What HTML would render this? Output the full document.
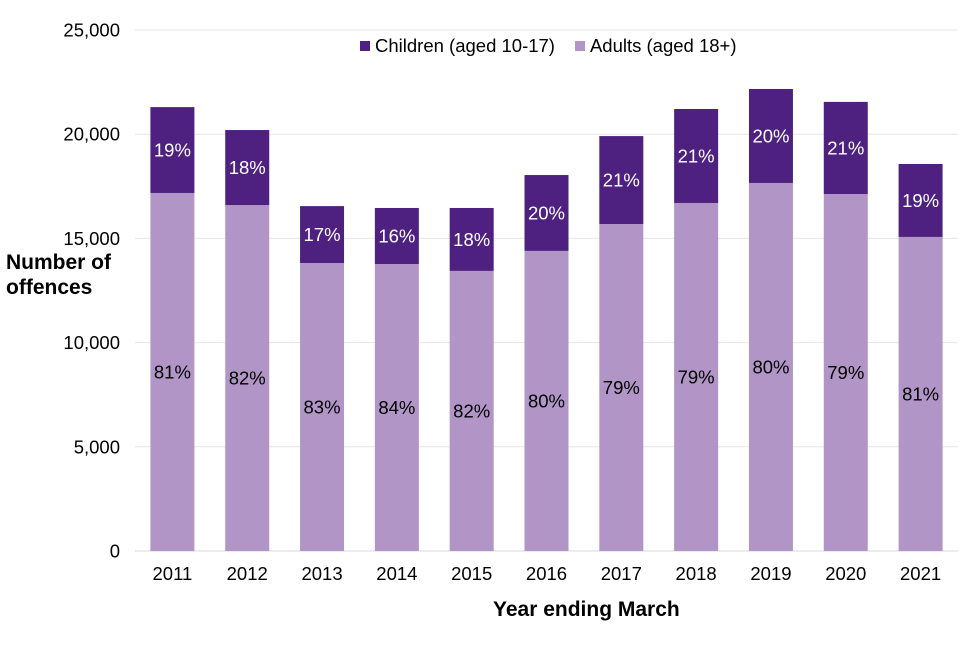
<!DOCTYPE html>
<html><head><meta charset="utf-8"><style>
body{margin:0;background:#fff;font-family:"Liberation Sans",Arial,sans-serif}
</style></head><body>
<svg id="chart" width="960" height="640" xmlns="http://www.w3.org/2000/svg" font-family="Liberation Sans, Arial, sans-serif"></svg>
<script>
const years=["2011","2012","2013","2014","2015","2016","2017","2018","2019","2020","2021"];
const adults=[17180,16600,13820,13770,13440,14400,15690,16700,17660,17130,15070];
const children=[4120,3600,2730,2690,3020,3640,4220,4510,4510,4420,3500];
const adultPct=["81%","82%","83%","84%","82%","80%","79%","79%","80%","79%","81%"];
const childPct=["19%","18%","17%","16%","18%","20%","21%","21%","20%","21%","19%"];
const yTicks=[0,5000,10000,15000,20000,25000];
const ns="http://www.w3.org/2000/svg";
const svg=document.getElementById('chart');
const L=135,R=958,T=30,B=551,yMax=25000;
const y=v=>B-(v/yMax)*(B-T);
const slot=(R-L)/years.length;
const xc=i=>L+slot*(i+0.5);
const bw=44;
const FS=18.5;
function mk(tag,attrs,text){const e=document.createElementNS(ns,tag);for(const k in attrs)e.setAttribute(k,attrs[k]);if(text!==undefined)e.textContent=text;svg.appendChild(e);return e;}
yTicks.forEach(t=>{
 const g=mk('line',{x1:L,x2:R,y1:y(t),y2:y(t),stroke:t===0?'#d9d9d9':'#e6e6e6','stroke-width':1});
 
 
 const lb=mk('text',{x:120,y:y(t)+6.5,'text-anchor':'end','font-size':FS,fill:'#000'},t.toLocaleString('en-US'));
 
 
});
years.forEach((yr,i)=>{
 const a=adults[i],c=children[i],x=xc(i)-bw/2;
 const ra=mk('rect',{x:x,y:y(a),width:bw,height:B-y(a),fill:'#b195c6'});
 
 
 const rc=mk('rect',{x:x,y:y(a+c),width:bw,height:y(a)-y(a+c),fill:'#4e2180'});
 
 
 const ta=mk('text',{x:xc(i),y:(y(a)+B)/2+6.5,'text-anchor':'middle','font-size':FS,fill:'#000'},adultPct[i]);
 
 
 const tc=mk('text',{x:xc(i),y:(y(a)+y(a+c))/2+6.5,'text-anchor':'middle','font-size':FS,fill:'#fff'},childPct[i]);
 
 
 const tx=mk('text',{x:xc(i),y:580,'text-anchor':'middle','font-size':FS,fill:'#000'},yr);
 
 
});
</script>
<div style="position:absolute;left:360px;top:35px;font-size:18.5px;display:flex;align-items:center">
 <span style="width:10px;height:10px;background:#4e2180;display:inline-block;margin-right:5px"></span>
 <span>Children (aged 10-17)</span>
 <span style="width:10px;height:10px;background:#b195c6;display:inline-block;margin:0 5px 0 20px"></span>
 <span>Adults (aged 18+)</span>
</div>
<div style="position:absolute;left:6px;top:250px;font-size:21px;font-weight:bold;line-height:25px">Number of<br>offences</div>
<div style="position:absolute;left:493px;top:598px;font-size:21px;font-weight:bold">Year ending March</div>
</body></html>
